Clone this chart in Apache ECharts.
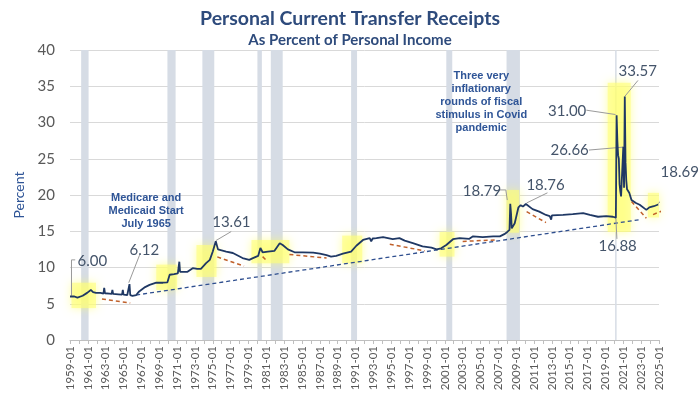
<!DOCTYPE html>
<html><head><meta charset="utf-8">
<script src="https://cdn.jsdelivr.net/npm/echarts@6/dist/echarts.min.js"></script>
<style>html,body{margin:0;padding:0;background:#fff}#c{width:700px;height:394px}</style>
</head><body><div id="c"></div>
<script>
// ---- data ----
const months = ["1959-01","1959-07","1959-11","1960-06","1960-12","1961-05","1961-08","1961-12","1962-06","1962-10","1962-11","1962-12","1963-06","1963-09","1963-10","1963-11","1964-06","1964-11","1964-12","1965-01","1965-06","1965-08","1965-09","1965-10","1966-01","1966-06","1966-10","1967-06","1967-12","1968-09","1969-06","1969-12","1970-03","1970-09","1971-02","1971-03","1971-04","1971-05","1971-09","1972-03","1972-10","1973-04","1973-09","1974-04","1974-09","1975-01","1975-05","1975-08","1976-07","1977-04","1978-05","1979-02","1979-07","1980-02","1980-05","1980-08","1981-03","1981-12","1982-07","1982-11","1983-06","1984-03","1985-02","1986-04","1987-01","1987-10","1988-04","1988-11","1989-08","1990-07","1991-02","1991-11","1992-08","1992-10","1992-12","1993-05","1994-02","1995-03","1995-12","1996-07","1997-06","1998-07","1999-07","2000-02","2000-08","2001-03","2001-12","2002-09","2003-10","2004-03","2005-04","2006-06","2007-03","2007-09","2008-01","2008-04","2008-05","2008-06","2008-07","2008-08","2008-11","2009-04","2009-07","2009-10","2010-02","2010-11","2011-08","2012-05","2012-10","2012-12","2013-01","2013-03","2014-04","2015-05","2016-07","2017-04","2018-03","2019-02","2019-11","2020-03","2020-04","2020-05","2020-06","2020-07","2020-08","2020-09","2020-10","2020-11","2020-12","2021-01","2021-02","2021-03","2021-04","2021-05","2021-06","2021-09","2021-12","2022-06","2022-11","2023-01","2023-08","2023-12","2024-06","2024-12"];
const values = [6.00,6.0,5.85,6.1,6.5,6.9,6.6,6.5,6.5,6.4,7.2,6.45,6.4,6.35,6.9,6.35,6.3,6.25,6.9,6.25,6.2,6.2,7.7,6.2,6.1,6.2,6.7,7.3,7.6,7.9,7.9,7.95,9.0,9.1,9.2,9.3,10.8,9.4,9.4,9.4,9.9,9.8,9.8,10.6,11.05,12.2,13.61,12.5,12.2,12.0,11.3,11.05,11.3,11.6,12.7,12.1,12.2,12.3,13.35,13.1,12.5,12.1,12.1,12.05,11.9,11.7,11.5,11.6,11.9,12.2,13.0,13.8,14.05,13.6,14.0,14.05,14.2,13.9,14.05,13.7,13.35,12.9,12.75,12.5,12.65,13.1,13.9,14.05,13.95,14.3,14.2,14.3,14.3,14.6,14.9,15.2,18.79,17.5,15.4,15.2,16.1,18.3,18.6,18.4,18.76,18.05,17.7,17.25,17.1,16.6,17.2,17.0,17.25,17.35,17.5,17.25,17.0,17.1,17.0,16.88,31.00,27.5,25.5,25.0,21.5,20.5,19.8,19.6,20.0,26.66,21.0,33.57,24.5,22.0,20.8,20.3,19.3,18.9,18.65,18.9,17.95,18.3,18.45,18.69];

const recessionStart = ["1960-04","1969-12","1973-11","1980-01","1981-07","1990-07","2001-03","2007-12","2020-02"];
const recessionEnd   = ["1961-02","1970-11","1975-03","1980-07","1982-11","1991-03","2001-11","2009-06","2020-04"];

const highlightStart = ["1959-03","1968-09","1973-03","1979-05","1989-07","2000-06","2007-12","2019-04","2023-10"];
const highlightEnd   = ["1961-12","1971-01","1975-06","1983-08","1991-10","2002-02","2009-05","2021-11","2025-07"];
const highlightLow   = [4.4,6.9,8.7,10.6,10.6,11.5,14.8,14.9,16.9];
const highlightHigh  = [7.9,10.4,13.1,13.8,14.4,14.9,20.7,35.5,20.3];

const declineFrom    = ["1962-08","1975-07","1980-08","1983-08","1994-11","2003-01","2010-03","2021-12","2024-05"];
const declineFromVal = [5.66,11.46,11.5,11.8,13.2,13.6,17.7,19.1,17.3];
const declineTo      = ["1965-10","1978-07","1981-01","1987-10","1998-10","2006-10","2012-05","2023-08","2025-11"];
const declineToVal   = [5.1,10.2,11.0,11.3,12.3,13.8,16.2,16.8,18.05];

const trendFrom = ["1966-06", 6.2];
const trendTo   = ["2022-11", 16.6];

const xTickYears = [1959, 2025]; // first and last x labels, every 2 years

// ---- helpers ----
const toM = s => { const [y, m] = s.split('-').map(Number); return (y - 1959) * 12 + (m - 1); };
const FONT = 'Lato, "Open Sans", sans-serif';
const numColor = '#44546A';

const lineData = months.map((d, i) => [toM(d), values[i]]);

// annotation layout (data coordinates: month index, percent)
const numLabels = [
  {t:'6.00',  at:[30, 10.9],  lead:[[2,6.1],[2,11.05],[7,11.05]]},
  {t:'6.12',  at:[100, 12.4], lead:[[93.5,11.7],[79,7.9]]},
  {t:'13.61', at:[217, 16.3], lead:[[216.8,14.96],[196,13.7]]},
  {t:'18.79', at:[554, 20.5], lead:[[577.6,20.7],[586,20.7],[588,19.3]]},
  {t:'18.76', at:[639.5, 21.4], lead:[[642,20.3],[614,18.9]]},
  {t:'31.00', at:[668.5, 31.6], lead:[[694.3,31.7],[733.5,31.1]]},
  {t:'26.66', at:[671.8, 26.2], lead:[[697.8,26.2],[743.5,26.6]]},
  {t:'33.57', at:[763.3, 37.15], lead:[[763.7,35.8],[746,33.6]]},
  {t:'16.88', at:[736.4, 13.0], lead:[[735.4,13.95],[734,16.85]]},
  {t:'18.69', at:[819.8, 23.1], lead:[[817.5,21.9],[791,18.8]]}
];
const textNotes = [
  {t:'Medicare and\nMedicaid Start\nJuly 1965', at:[102.4, 17.8]},
  {t:'Three very\ninflationary\nrounds of fiscal\nstimulus in Covid\npandemic', at:[553, 32.9]}
];

const series = [];
series.push({
  type:'line', data:[], silent:true, z:1,
  markArea:{silent:true, itemStyle:{color:'#D6DCE5'},
    data: recessionStart.map((s,i)=>[{xAxis:toM(s), yAxis:0},{xAxis:toM(recessionEnd[i]), yAxis:40}])}
});
series.push({
  type:'line', data:[], silent:true, z:2,
  markArea:{silent:true, itemStyle:{color:'rgba(255,255,120,0.6)', shadowBlur:10, shadowColor:'rgba(255,255,90,0.9)'},
    data: highlightStart.map((s,i)=>[{xAxis:toM(s), yAxis:highlightLow[i]},{xAxis:toM(highlightEnd[i]), yAxis:highlightHigh[i]}])}
});
series.push({type:'line', z:3, silent:true, symbol:'none', clip:false,
  data:[[toM(trendFrom[0]), trendFrom[1]],[toM(trendTo[0]), trendTo[1]]],
  lineStyle:{color:'#2F4F8F', width:1.3, type:[4,3]}});
declineFrom.forEach((s,i)=>{
  series.push({type:'line', z:3, silent:true, symbol:'none', clip:false,
    data:[[toM(s), declineFromVal[i]],[toM(declineTo[i]), declineToVal[i]]],
    lineStyle:{color:'#C0602A', width:1.5, type:[4,3]}});
});
series.push({type:'line', z:5, symbol:'none', data:lineData,
  lineStyle:{color:'#1F3864', width:1.8}});
numLabels.forEach(a=>{
  series.push({type:'line', z:4, silent:true, symbol:'none', clip:false, data:a.lead,
    lineStyle:{color:'#9A9A9A', width:1}});
});

const chart = echarts.init(document.getElementById('c'), null, {renderer:'canvas'});
chart.setOption({
  animation:false,
  backgroundColor:'#fff',
  title:{text:'Personal Current Transfer Receipts', subtext:'As Percent of Personal Income',
    left:'center', top:4, itemGap:4,
    textStyle:{fontSize:19.5, fontWeight:'bold', color:'#2E4B7C', fontFamily:FONT},
    subtextStyle:{fontSize:15, fontWeight:'bold', color:'#2E4B7C', fontFamily:FONT}},
  grid:{left:70, right:41, top:50, bottom:54},
  xAxis:{type:'value', min:0, max:(xTickYears[1]-1959)*12, interval:24,
    axisLine:{lineStyle:{color:'#BFBFBF'}},
    axisTick:{show:true, length:4, lineStyle:{color:'#BFBFBF'}},
    minorTick:{show:true, splitNumber:2, length:4, lineStyle:{color:'#BFBFBF'}},
    splitLine:{show:false},
    axisLabel:{rotate:90, fontSize:11.5, color:'#595959', fontFamily:FONT, margin:6,
      formatter:v=>(xTickYears[0] + Math.round(v/12)) + '-01'}},
  yAxis:{type:'value', min:0, max:40, interval:5, name:'Percent', nameLocation:'middle', nameGap:42,
    nameTextStyle:{color:'#2F5597', fontSize:14, fontFamily:FONT},
    axisLabel:{fontSize:15, color:'#595959', margin:15, fontFamily:FONT},
    splitLine:{lineStyle:{color:'#D9D9D9'}},
    axisLine:{show:false}, axisTick:{show:false}},
  series
});

// text annotations placed through the chart's own coordinate conversion
const g = [];
numLabels.forEach(a=>{
  const p = chart.convertToPixel({gridIndex:0}, a.at);
  g.push({type:'text', x:p[0], y:p[1], z:100, silent:true,
    style:{text:a.t, fill:numColor, font:'15px ' + FONT, align:'center', verticalAlign:'middle'}});
});
textNotes.forEach(a=>{
  const p = chart.convertToPixel({gridIndex:0}, a.at);
  g.push({type:'text', x:p[0], y:p[1], z:100, silent:true,
    style:{text:a.t, fill:'#2F5597', font:'bold 11px "Liberation Sans", Arial, sans-serif',
      lineHeight:13, align:'center', verticalAlign:'middle'}});
});
chart.setOption({graphic:g});
</script></body></html>
